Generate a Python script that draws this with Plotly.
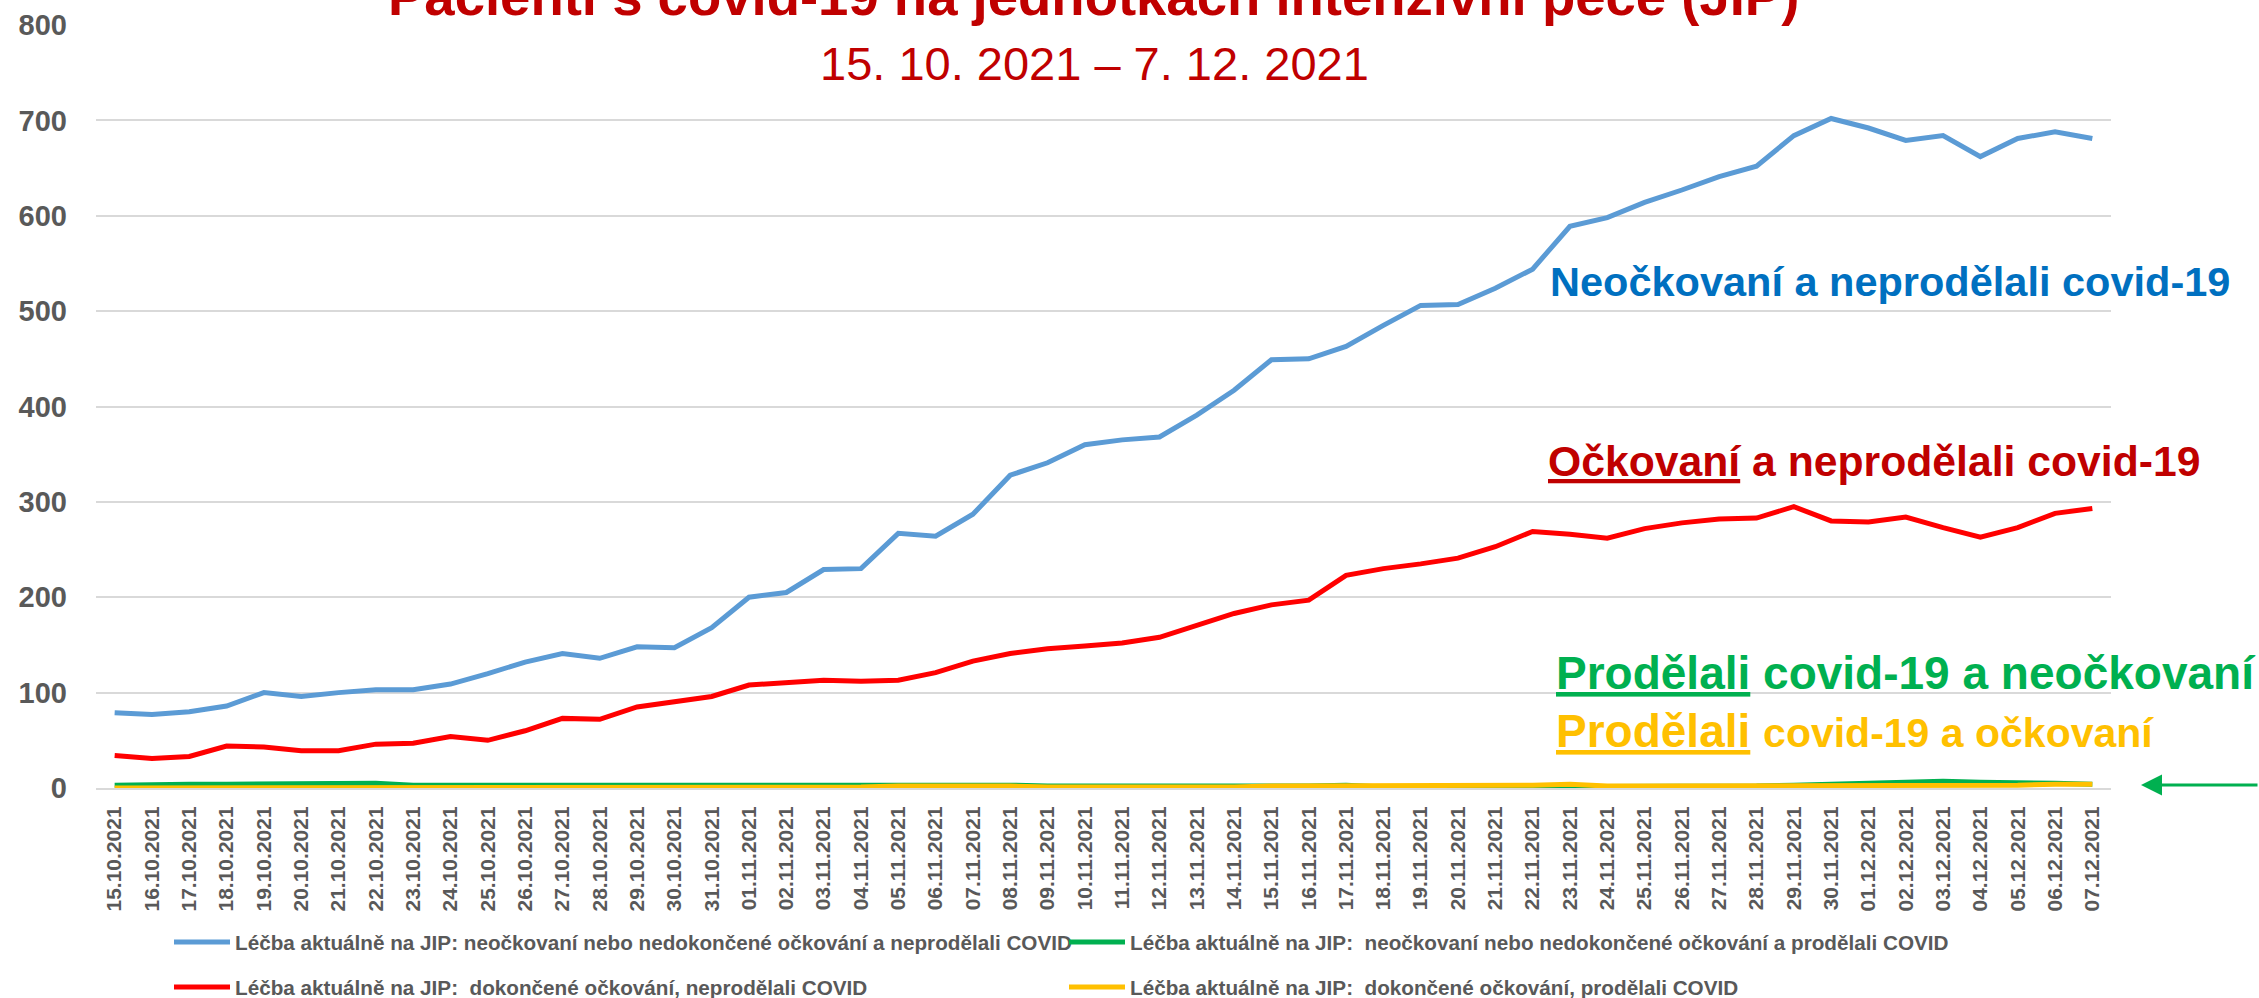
import plotly.graph_objects as go

dates = ["15.10.2021", "16.10.2021", "17.10.2021", "18.10.2021", "19.10.2021", "20.10.2021",
         "21.10.2021", "22.10.2021", "23.10.2021", "24.10.2021", "25.10.2021", "26.10.2021",
         "27.10.2021", "28.10.2021", "29.10.2021", "30.10.2021", "31.10.2021", "01.11.2021",
         "02.11.2021", "03.11.2021", "04.11.2021", "05.11.2021", "06.11.2021", "07.11.2021",
         "08.11.2021", "09.11.2021", "10.11.2021", "11.11.2021", "12.11.2021", "13.11.2021",
         "14.11.2021", "15.11.2021", "16.11.2021", "17.11.2021", "18.11.2021", "19.11.2021",
         "20.11.2021", "21.11.2021", "22.11.2021", "23.11.2021", "24.11.2021", "25.11.2021",
         "26.11.2021", "27.11.2021", "28.11.2021", "29.11.2021", "30.11.2021", "01.12.2021",
         "02.12.2021", "03.12.2021", "04.12.2021", "05.12.2021", "06.12.2021", "07.12.2021"]

unvacc_no_covid = [79, 77, 80, 86, 100, 96, 100, 103, 103, 109, 120, 132, 141, 136, 148, 147, 168, 200, 205,
                   229, 230, 267, 264, 287, 328, 341, 360, 365, 368, 391, 417, 449, 450, 463, 485, 506, 507, 524,
                   544, 589, 598, 614, 627, 641, 652, 684, 702, 692, 679, 684, 662, 681, 688, 681]
unvacc_covid = [3, 4, 4, 4, 4, 4, 4, 5, 3, 3, 3, 3, 3, 3, 3, 3, 3, 3, 3, 3,
                3, 3, 3, 4, 3, 2, 2, 2, 2, 1, 2, 2, 2, 3, 1, 1, 1, 1, 1, 2,
                2, 2, 2, 2, 2, 3, 4, 6, 6, 7, 6, 6, 5, 4]
vacc_no_covid = [34, 31, 33, 44, 43, 39, 39, 46, 47, 54, 50, 60, 73, 72, 85, 91, 96, 108, 110,
                 113, 112, 113, 121, 133, 141, 146, 149, 152, 158, 170, 183, 192, 197, 223, 230, 235, 241, 253,
                 269, 266, 262, 272, 278, 282, 283, 295, 280, 279, 284, 273, 263, 273, 288, 293]
vacc_covid = [0, 0, 0, 0, 0, 0, 0, 0, 0, 0, 0, 0, 0, 0, 0, 0, 1, 1, 1, 1,
              1, 2, 2, 3, 2, 1, 1, 1, 1, 0, 1, 2, 2, 3, 2, 3, 3, 3, 3, 4,
              2, 2, 2, 2, 3, 3, 3, 3, 2, 2, 3, 3, 4, 4]

series_names = [
    "Léčba aktuálně na JIP: neočkovaní nebo nedokončené očkování a neprodělali COVID",
    "Léčba aktuálně na JIP:  neočkovaní nebo nedokončené očkování a prodělali COVID",
    "Léčba aktuálně na JIP:  dokončené očkování, neprodělali COVID",
    "Léčba aktuálně na JIP:  dokončené očkování, prodělali COVID",
]
series_values = [unvacc_no_covid, unvacc_covid, vacc_no_covid, vacc_covid]
series_colors = ["#5B9BD5", "#00B050", "#FF0000", "#FFC000"]
series_legend = ["legend", "legend", "legend2", "legend2"]

W, H = 2259, 998
ML, MR, MT, MB = 96, 148, 25, 210
PW = W - ML - MR
PH = H - MT - MB

FONT = "Liberation Sans, Arial, sans-serif"


def px_x(x):
    return (x - ML) / PW


def px_y(y):
    return (H - MB - y) / PH


fig = go.Figure()
for name, vals, col, lg in zip(series_names, series_values, series_colors, series_legend):
    fig.add_trace(go.Scatter(x=dates, y=vals, mode="lines", name=name,
                             line=dict(color=col, width=5), legend=lg))

legend_font = dict(family=FONT, size=20.7, color="#595959", weight="bold")
leg_common = dict(orientation="h", xanchor="left", yanchor="middle",
                  entrywidth=824, entrywidthmode="pixels", font=legend_font,
                  bgcolor="rgba(0,0,0,0)", itemwidth=56)

fig.update_layout(
    width=W, height=H,
    margin=dict(l=ML, r=MR, t=MT, b=MB, autoexpand=False),
    paper_bgcolor="white", plot_bgcolor="white",
    showlegend=True,
    legend=dict(x=px_x(169), y=px_y(942), **leg_common),
    legend2=dict(x=px_x(169), y=px_y(987), **leg_common),
    xaxis=dict(type="category", tickangle=-90, showgrid=False, showline=True,
               linecolor="#D9D9D9", linewidth=2, ticks="", automargin=False,
               tickfont=dict(family=FONT, size=21, color="#595959", weight="bold"),
               ticklabelstandoff=8, range=[-0.5, len(dates) - 0.5]),
    yaxis=dict(range=[0, 800], dtick=100, showgrid=True, gridcolor="#D9D9D9", gridwidth=2,
               zeroline=False, showline=False, ticks="", automargin=False,
               tickfont=dict(family=FONT, size=29, color="#595959", weight="bold"),
               ticklabelstandoff=28),
)

annotations = [
    dict(text="<b>Pacienti s covid-19 na jednotkách intenzivní péče (JIP)</b>",
         x=px_x(1093), y=px_y(15 - 0.346 * 54), xanchor="center", yanchor="middle",
         font=dict(family=FONT, size=54.5, color="#C00000")),
    dict(text="15. 10. 2021 – 7. 12. 2021",
         x=px_x(1094), y=px_y(80 - 0.346 * 47), xanchor="center", yanchor="middle",
         font=dict(family=FONT, size=47, color="#C00000")),
    dict(text="<b>Neočkovaní a neprodělali covid-19</b>",
         x=px_x(1548), y=px_y(296 - 0.346 * 41), xanchor="left", yanchor="middle",
         font=dict(family=FONT, size=41.5, color="#0070C0")),
    dict(text="<b><u>Očkovaní</u> a neprodělali covid-19</b>",
         x=px_x(1546), y=px_y(476 - 0.346 * 42), xanchor="left", yanchor="middle",
         font=dict(family=FONT, size=42.7, color="#C00000")),
    dict(text="<b><u>Prodělali</u> covid-19 a neočkovaní</b>",
         x=px_x(1554), y=px_y(689 - 0.346 * 46), xanchor="left", yanchor="middle",
         font=dict(family=FONT, size=46, color="#00B050")),
    dict(text="<b><u>Prodělali</u> <span style='font-size:41px'>covid-19 a očkovaní</span></b>",
         x=px_x(1554), y=px_y(747 - 0.346 * 46), xanchor="left", yanchor="middle",
         font=dict(family=FONT, size=46, color="#FFC000")),
]
for a in annotations:
    a.update(xref="paper", yref="paper", showarrow=False)

annotations.append(dict(x=px_x(2141), y=px_y(785), xref="paper", yref="paper", text="",
                        showarrow=True, ax=140, ay=0, arrowhead=2, arrowsize=1.4,
                        arrowwidth=3, arrowcolor="#00B050"))
fig.update_layout(annotations=annotations)

fig.write_html("out.html", include_plotlyjs=True, config={"displayModeBar": False},
               post_script="document.body.style.margin='0';document.body.style.overflow='hidden';")
